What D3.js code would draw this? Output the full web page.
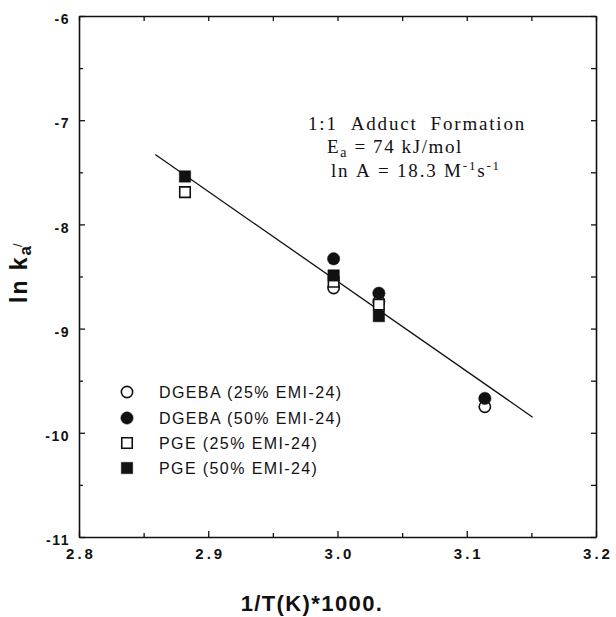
<!DOCTYPE html>
<html lang="en">
<head>
<meta charset="UTF-8">
<title>1:1 Adduct Formation</title>
<script src="https://cdn.jsdelivr.net/npm/d3@7/dist/d3.min.js"></script>
<style>
    body { margin: 0; background: #fff; }
    .tick text { font-family: "Liberation Sans", Arial, sans-serif; font-weight: bold; fill: #111; }
    .domain, .tick line { stroke: #111; }
</style>
</head>
<body>
<svg id="chart" width="616" height="617"></svg>
<script>
// data
const dgebaX = [2.997, 3.032, 3.114];
const dgeba25 = [-8.61, -8.74, -9.75];
const dgeba50 = [-8.33, -8.66, -9.67];
const pgeX = [2.882, 2.997, 3.032];
const pge25 = [-7.69, -8.55, -8.77];
const pge50 = [-7.54, -8.49, -8.88];

// fitted line end points
const fitX = [2.859, 3.151];
const fitY = [-7.33, -9.85];

const xTicks = [2.8, 2.9, 3.0, 3.1, 3.2];
const xTickLabels = ["2.8", "2.9", "3.0", "3.1", "3.2"];
const xMinor = [2.85, 2.95, 3.05, 3.15];
const yTicks = [-11, -10, -9, -8, -7, -6];
const yMinor = [-10.5, -9.5, -8.5, -7.5, -6.5];

const legendNames = ["DGEBA (25% EMI-24)", "DGEBA (50% EMI-24)", "PGE (25% EMI-24)", "PGE (50% EMI-24)"];

const svg = d3.select("#chart");
const plotLeft = 79, plotRight = 596, plotTop = 16, plotBottom = 537;
const nb = s => s.replace(/ /g, "\u00A0");

const x = d3.scaleLinear().domain([2.8, 3.2]).range([plotLeft, plotRight]);
const y = d3.scaleLinear().domain([-11, -6]).range([plotBottom, plotTop]);

// axes: ticks point inward
const xb = svg.append("g").attr("transform", `translate(0,${plotBottom})`)
    .call(d3.axisBottom(x).tickValues(xTicks).tickSize(-6).tickSizeOuter(0).tickPadding(11)
        .tickFormat((d, i) => xTickLabels[i]));
xb.selectAll(".tick text").attr("font-size", 15).attr("letter-spacing", "3px").attr("dx", "1.5px");
svg.append("g").attr("transform", `translate(0,${plotBottom})`)
    .call(d3.axisBottom(x).tickValues(xMinor).tickSize(-4).tickFormat(""))
    .select(".domain").remove();

svg.append("g").attr("transform", `translate(0,${plotTop})`)
    .call(d3.axisTop(x).tickValues(xTicks.concat(xMinor)).tickSize(-5).tickSizeOuter(0).tickFormat(""));

const yl = svg.append("g").attr("transform", `translate(${plotLeft},0)`)
    .call(d3.axisLeft(y).tickValues(yTicks).tickSize(-6).tickSizeOuter(0).tickPadding(9)
        .tickFormat(d => d));
yl.selectAll(".tick text").attr("font-size", 14).attr("letter-spacing", "1.5px").attr("dy", "0.55em");
svg.append("g").attr("transform", `translate(${plotLeft},0)`)
    .call(d3.axisLeft(y).tickValues(yMinor).tickSize(-4).tickFormat(""))
    .select(".domain").remove();

svg.append("g").attr("transform", `translate(${plotRight},0)`)
    .call(d3.axisRight(y).tickValues(yTicks.concat(yMinor)).tickSize(-5).tickSizeOuter(0).tickFormat(""));

svg.selectAll(".domain").attr("stroke-width", 1.6);
svg.selectAll(".tick line").attr("stroke-width", 1.3);

// fit line
svg.append("path")
    .datum(d3.zip(fitX, fitY))
    .attr("fill", "none")
    .attr("stroke", "#111")
    .attr("stroke-width", 1.3)
    .attr("d", d3.line().x(d => x(d[0])).y(d => y(d[1])));

// markers
const sym = {
    openCircle: d3.symbol().type(d3.symbolCircle).size(100),
    fillCircle: d3.symbol().type(d3.symbolCircle).size(120),
    openSquare: d3.symbol().type(d3.symbolSquare).size(110),
    fillSquare: d3.symbol().type(d3.symbolSquare).size(130)
};
const series = [
    { xs: dgebaX, ys: dgeba25, shape: "openCircle", filled: false },
    { xs: pgeX, ys: pge25, shape: "openSquare", filled: false },
    { xs: pgeX, ys: pge50, shape: "fillSquare", filled: true },
    { xs: dgebaX, ys: dgeba50, shape: "fillCircle", filled: true }
];
series.forEach(s => {
    svg.append("g").selectAll("path")
        .data(d3.zip(s.xs, s.ys))
        .enter().append("path")
        .attr("transform", d => `translate(${x(d[0])},${y(d[1])})`)
        .attr("d", sym[s.shape]())
        .attr("fill", s.filled ? "#111" : "#fff")
        .attr("stroke", "#111")
        .attr("stroke-width", s.filled ? 0.5 : 1.6);
});

// legend
const legendShapes = ["openCircle", "fillCircle", "openSquare", "fillSquare"];
const legendRows = [392, 418, 443, 468];
legendNames.forEach((name, i) => {
    const filled = legendShapes[i].startsWith("fill");
    svg.append("path")
        .attr("transform", `translate(127,${legendRows[i]})`)
        .attr("d", sym[legendShapes[i]]())
        .attr("fill", filled ? "#111" : "#fff")
        .attr("stroke", "#111")
        .attr("stroke-width", filled ? 0.5 : 1.6);
    svg.append("text")
        .attr("x", 159)
        .attr("y", legendRows[i] + 6)
        .attr("font-family", "'Liberation Sans', Arial, sans-serif")
        .attr("font-size", 16)
        .attr("letter-spacing", "1.4px")
        .attr("fill", "#111")
        .text(name);
});

// annotation
const note = svg.append("g")
    .attr("font-family", "'Liberation Serif', 'Times New Roman', serif")
    .attr("font-size", 19)
    .attr("fill", "#111");
note.append("text").attr("x", 308).attr("y", 130).attr("letter-spacing", "1.8px")
    .text(nb("1:1  Adduct  Formation"));
const ea = note.append("text").attr("x", 327).attr("y", 153).attr("letter-spacing", "1.6px");
ea.append("tspan").text("E");
ea.append("tspan").attr("font-size", 14).attr("dy", 4).text("a");
ea.append("tspan").attr("dy", -4).text(nb(" = 74 kJ/mol"));
const lnA = note.append("text").attr("x", 331).attr("y", 177).attr("letter-spacing", "1.8px");
lnA.append("tspan").text(nb("ln A = 18.3 M"));
lnA.append("tspan").attr("font-size", 13).attr("dy", -7).text("-1");
lnA.append("tspan").attr("dy", 7).text("s");
lnA.append("tspan").attr("font-size", 13).attr("dy", -7).text("-1");

// axis titles
svg.append("text")
    .attr("x", 312).attr("y", 611)
    .attr("text-anchor", "middle")
    .attr("font-family", "'Liberation Sans', Arial, sans-serif")
    .attr("font-weight", "bold")
    .attr("font-size", 22)
    .attr("letter-spacing", "1.4px")
    .attr("fill", "#111")
    .text("1/T(K)*1000.");

const yTitle = svg.append("text")
    .attr("transform", "translate(27,303) rotate(-90)")
    .attr("font-family", "'Liberation Sans', Arial, sans-serif")
    .attr("font-weight", "bold")
    .attr("font-size", 23)
    .attr("letter-spacing", "2px")
    .attr("fill", "#111");
yTitle.append("tspan").text("ln k");
yTitle.append("tspan").attr("font-size", 17).attr("dy", 4).text("a");
yTitle.append("tspan").attr("font-size", 13).attr("dx", -3).attr("dy", -9).attr("font-weight", "normal").text("/");
</script>
</body>
</html>
